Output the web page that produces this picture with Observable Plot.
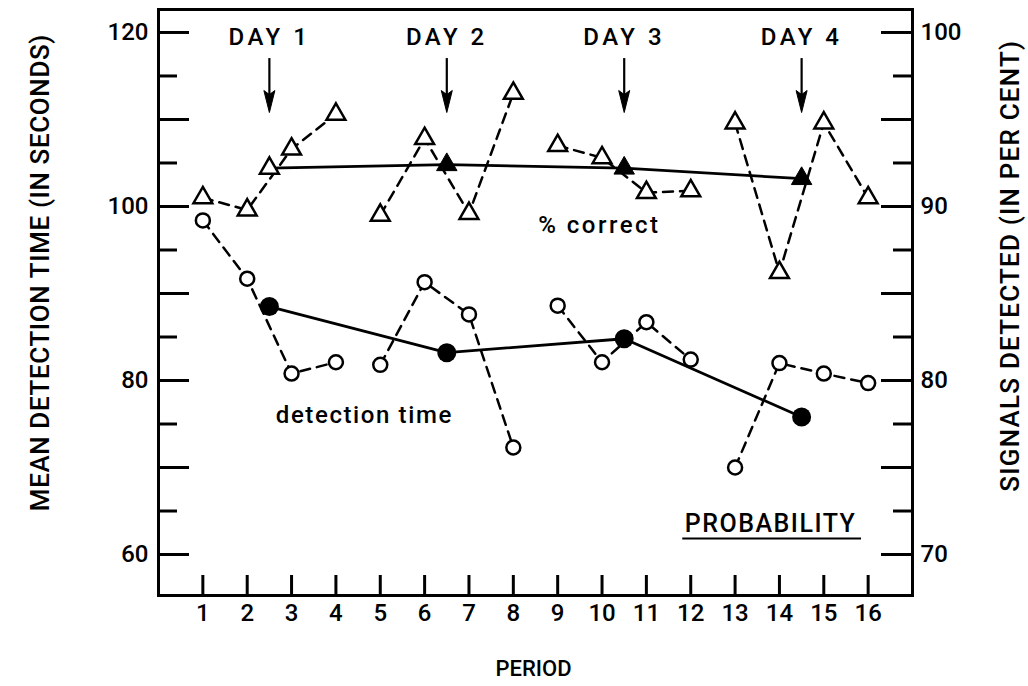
<!DOCTYPE html>
<html>
<head>
<meta charset="utf-8">
<script src="https://cdn.jsdelivr.net/npm/d3@7"></script>
<script src="https://cdn.jsdelivr.net/npm/@observablehq/plot@0.6"></script>
<style>
  html, body { margin: 0; padding: 0; background: #fff; }
  #chart svg { display: block; }
</style>
</head>
<body>
<div id="chart"></div>
<script>
// ---- data ----
const periods = [1, 2, 3, 4, 5, 6, 7, 8, 9, 10, 11, 12, 13, 14, 15, 16];
// % correct (signals detected, per cent) – right axis
const pctCorrect = [90.5, 89.8, 93.3, 95.3, 89.5, 93.9, 89.6, 96.5, 93.5, 92.8, 90.8, 90.9, 94.8, 86.2, 94.8, 90.5];
// mean detection time (seconds) – left axis
const detectionTime = [98.4, 91.7, 80.8, 82.1, 81.8, 91.3, 87.6, 72.3, 88.6, 82.1, 86.7, 82.4, 70.0, 82.0, 80.8, 79.7];
// day means
const dayLabels = ["DAY 1", "DAY 2", "DAY 3", "DAY 4"];
const dayPeriod = [2.5, 6.5, 10.5, 14.5];
const dayPctCorrect = [92.2, 92.4, 92.2, 91.6];
const dayDetectionTime = [88.5, 83.2, 84.8, 75.8];
// axis ticks
const leftTickLabels = [60, 80, 100, 120];
const rightTickLabels = [70, 80, 90, 100];
const majorTicks = [60, 70, 80, 90, 100, 110, 120];
const minorTicks = [65, 75, 85, 95, 105, 115];

// percent axis maps linearly onto the seconds axis (70% ↔ 60 s, 100% ↔ 120 s)
const toLeft = p => 60 + (p - 70) * 2;

const rows = periods.map((p, i) => ({period: p, day: Math.floor(i / 4), pct: pctCorrect[i], time: detectionTime[i]}));
const dayRows = dayPeriod.map((p, i) => ({period: p, label: dayLabels[i], pct: dayPctCorrect[i], time: dayDetectionTime[i]}));

const W = 1028, H = 686, mL = 158, mR = 116, mT = 9, mB = 91;
const fw = W - mL - mR, fh = H - mT - mB;

const arrowHead = {
  draw(ctx) {
    ctx.moveTo(0, 0);
    ctx.lineTo(-5.5, -22);
    ctx.lineTo(0, -18);
    ctx.lineTo(5.5, -22);
    ctx.closePath();
  }
};

const chart = Plot.plot({
  width: W,
  height: H,
  marginLeft: mL,
  marginRight: mR,
  marginTop: mT,
  marginBottom: mB,
  style: {fontFamily: "Roboto, sans-serif", fontSize: "24px", fontWeight: 500, color: "black", background: "white"},
  x: {domain: [0, 17], axis: null},
  y: {domain: [55.29, 122.64], axis: null},
  marks: [
    Plot.frame({stroke: "black", strokeWidth: 3}),
    // inward ticks
    Plot.tickY(majorTicks, {y: d => d, insetRight: fw - 31, strokeWidth: 3}),
    Plot.tickY(minorTicks, {y: d => d, insetRight: fw - 19, strokeWidth: 3}),
    Plot.tickY(majorTicks, {y: d => d, insetLeft: fw - 31, strokeWidth: 3}),
    Plot.tickY(minorTicks, {y: d => d, insetLeft: fw - 19, strokeWidth: 3}),
    Plot.tickX(periods, {x: d => d, insetTop: fh - 20, strokeWidth: 3}),
    // tick labels
    Plot.axisY(leftTickLabels, {anchor: "left", tickSize: 0, tickPadding: 10, label: null, fontSize: 24}),
    Plot.axisY(rightTickLabels.map(toLeft), {anchor: "right", tickSize: 0, tickPadding: 8, label: null, fontSize: 24,
      tickFormat: (d, i) => String(rightTickLabels[i])}),
    Plot.axisX(periods, {anchor: "bottom", tickSize: 0, tickPadding: 8, label: null, fontSize: 24}),
    // axis titles
    Plot.text(["MEAN DETECTION TIME (IN SECONDS)"], {text: d => d, x: -2.66, y: 92.4, rotate: -90, fontSize: 26}),
    Plot.text(["SIGNALS DETECTED (IN PER CENT)"], {text: d => d, x: 19.21, y: 93.2, rotate: -90, fontSize: 26}),
    Plot.text(["PERIOD"], {text: d => d, frameAnchor: "bottom", dy: 80, dx: -2, fontSize: 22}),
    // day arrows
    Plot.ruleX(dayRows, {x: "period", y1: 117.0, y2: 112.5, strokeWidth: 2.2}),
    Plot.dot(dayRows, {x: "period", y: 110.8, symbol: arrowHead, fill: "black", stroke: "black", strokeWidth: 1}),
    Plot.text(dayRows, {x: "period", y: 119.43, text: "label", fontSize: 24}),
    // dashed per-period lines
    Plot.line(rows, {x: "period", y: d => toLeft(d.pct), z: "day", stroke: "black", strokeWidth: 2.5, strokeDasharray: "10,7"}),
    Plot.line(rows, {x: "period", y: "time", z: "day", stroke: "black", strokeWidth: 2.5, strokeDasharray: "10,7"}),
    // solid day-mean lines
    Plot.line(dayRows, {x: "period", y: d => toLeft(d.pct), stroke: "black", strokeWidth: 2.8}),
    Plot.line(dayRows, {x: "period", y: "time", stroke: "black", strokeWidth: 2.8}),
    // markers
    Plot.dot(rows, {x: "period", y: d => toLeft(d.pct), symbol: "triangle", r: 7, fill: "white", stroke: "black", strokeWidth: 2.5}),
    Plot.dot(rows, {x: "period", y: "time", r: 7, fill: "white", stroke: "black", strokeWidth: 2.5}),
    Plot.dot(dayRows.slice(0, 1), {x: "period", y: d => toLeft(d.pct), symbol: "triangle", r: 7, fill: "white", stroke: "black", strokeWidth: 2.5}),
    Plot.dot(dayRows.slice(1), {x: "period", y: d => toLeft(d.pct), symbol: "triangle", r: 7.6, fill: "black", stroke: "black", strokeWidth: 1}),
    Plot.dot(dayRows, {x: "period", y: "time", r: 9.5, fill: "black"}),
    // annotations
    Plot.text(["% correct"], {text: d => d, x: 9.94, y: 97.8, fontSize: 24}),
    Plot.text(["detection time"], {text: d => d, x: 4.64, y: 76.0, fontSize: 24}),
    Plot.text(["PROBABILITY"], {text: d => d, x: 13.8, y: 63.56, fontSize: 25}),
    Plot.ruleY([61.84], {y: d => d, x1: 11.82, x2: 15.85, strokeWidth: 2})
  ]
});

// letter spacing for the widely set lettering of the original
const spacing = new Map([
  ["MEAN DETECTION TIME (IN SECONDS)", "0.6px"],
  ["SIGNALS DETECTED (IN PER CENT)", "1.2px"],
  ["PROBABILITY", "1.5px"],
  ["% correct", "2.5px"],
  ["detection time", "1.6px"],
  ["DAY 1", "3.5px"], ["DAY 2", "3.5px"], ["DAY 3", "3.5px"], ["DAY 4", "3.5px"]
]);
d3.select(chart).selectAll("text").each(function() {
  const s = spacing.get(this.textContent);
  if (s) this.style.letterSpacing = s;
});

document.getElementById("chart").appendChild(chart);
</script>
</body>
</html>
